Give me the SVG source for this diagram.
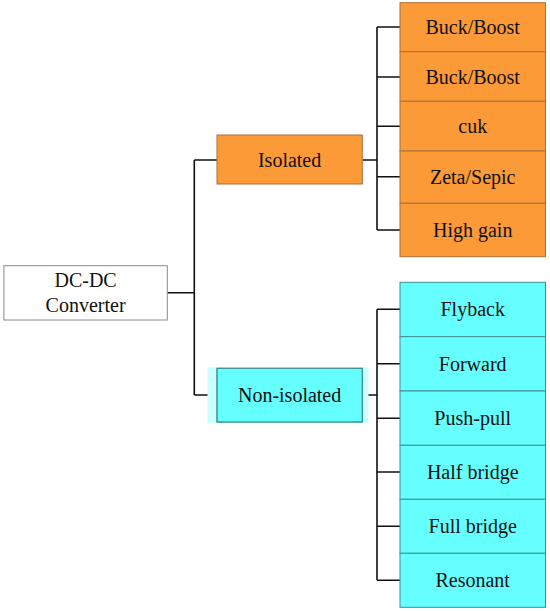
<svg xmlns="http://www.w3.org/2000/svg" width="550" height="611" viewBox="0 0 550 611">
<style>
text{font-family:"Liberation Serif","Times New Roman",serif;font-size:20px;fill:#111;text-anchor:middle}
.or{fill:#fb9a37;stroke:#a8703a;stroke-width:1}
.cy{fill:#66ffff;stroke:#3f8f8f;stroke-width:1}
.wh{fill:#fff;stroke:#8a8a8a;stroke-width:1}
.ln{fill:none;stroke:#111;stroke-width:1.6}
</style>
<rect width="550" height="611" fill="#fff"/>
<g id="connectors">
<path class="ln" d="M167.3,292.7H194.3M194.3,160V395M194.3,160H217M194.3,395H217"/>
<path class="ln" d="M362.3,160H377M377,27V230M377,27H400M377,77H400M377,126.3H400M377,176.7H400M377,230H400"/>
<path class="ln" d="M362.3,395H377M377,309.3V580.3M377,309.3H400M377,363.7H400M377,418.3H400M377,472H400M377,526.3H400M377,580.3H400"/>
</g>
<g id="root"><rect class="wh" x="3.9" y="265.7" width="163.4" height="54.3"/><text x="85.6" y="286.7">DC-DC</text><text x="85.6" y="311.7">Converter</text></g>
<g id="isolated"><rect class="or" x="217" y="135" width="145.3" height="49"/><text x="289.6" y="166.5">Isolated</text></g>
<g id="nonisolated"><rect x="207.5" y="367.3" width="161" height="56" fill="#ccffff"/><rect class="cy" x="217" y="368.3" width="145.3" height="53.7" fill="#a6e6ff"/><rect x="223.5" y="368.8" width="130" height="52.7" fill="#66ffff"/><rect x="217" y="368.3" width="145.3" height="53.7" fill="none" stroke="#3f8f8f"/><text x="289.6" y="401.5">Non-isolated</text></g>
<g id="iso1"><rect class="or" x="400" y="2.7" width="145.5" height="49"/><text x="472.7" y="34">Buck/Boost</text></g>
<g id="iso2"><rect class="or" x="400" y="51.7" width="145.5" height="49.6"/><text x="472.7" y="84">Buck/Boost</text></g>
<g id="iso3"><rect class="or" x="400" y="101.3" width="145.5" height="49.7"/><text x="472.7" y="133">cuk</text></g>
<g id="iso4"><rect class="or" x="400" y="151" width="145.5" height="52.3"/><text x="472.7" y="183.5">Zeta/Sepic</text></g>
<g id="iso5"><rect class="or" x="400" y="203.3" width="145.5" height="53.4"/><text x="472.7" y="237">High gain</text></g>
<g id="non1"><rect class="cy" x="400" y="282.3" width="145.5" height="54.4"/><text x="472.7" y="316">Flyback</text></g>
<g id="non2"><rect class="cy" x="400" y="336.7" width="145.5" height="54.3"/><text x="472.7" y="370.5">Forward</text></g>
<g id="non3"><rect class="cy" x="400" y="391" width="145.5" height="54.3"/><text x="472.7" y="425">Push-pull</text></g>
<g id="non4"><rect class="cy" x="400" y="445.3" width="145.5" height="54"/><text x="472.7" y="479">Half bridge</text></g>
<g id="non5"><rect class="cy" x="400" y="499.3" width="145.5" height="54"/><text x="472.7" y="533">Full bridge</text></g>
<g id="non6"><rect class="cy" x="400" y="553.3" width="145.5" height="54"/><text x="472.7" y="587">Resonant</text></g>
</svg>
